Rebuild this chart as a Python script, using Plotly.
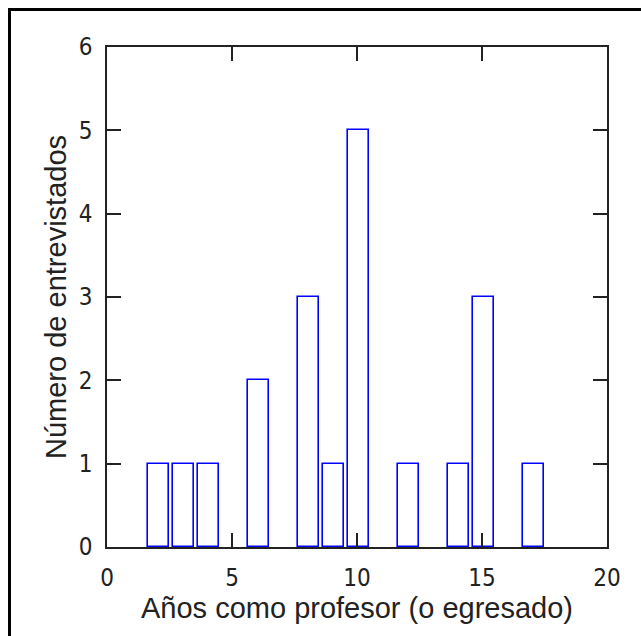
import plotly.graph_objects as go

# Years as teacher (or graduate) and number of interviewees in each
anos = [2, 3, 4, 6, 8, 9, 10, 12, 14, 15, 17]
entrevistados = [1, 1, 1, 2, 3, 1, 5, 1, 1, 3, 1]

x_ticks = [0, 5, 10, 15, 20]
y_ticks = [0, 1, 2, 3, 4, 5, 6]

tick_font = dict(family="Liberation Sans Narrow, DejaVu Sans Condensed, Arial Narrow, sans-serif",
                 size=24, color="#222222")
title_font = dict(family="Liberation Sans, Arial, sans-serif", size=29, color="#222222")

fig = go.Figure(
    go.Bar(
        x=anos,
        y=entrevistados,
        width=0.84,
        offset=-0.35,
        marker=dict(color="white", line=dict(color="#0000ff", width=1.6)),
    )
)

axis_common = dict(
    showline=True,
    linecolor="#222222",
    linewidth=1.5,
    mirror="ticks",
    ticks="inside",
    ticklen=14,
    tickwidth=1.5,
    tickcolor="#222222",
    showgrid=False,
    zeroline=False,
    tickfont=tick_font,
)

fig.update_xaxes(
    range=[0, 20],
    tickvals=x_ticks,
    title=dict(text="Años como profesor (o egresado)", font=title_font, standoff=2),
    ticklabelstandoff=8,
    **axis_common,
)
fig.update_yaxes(
    range=[0, 6],
    tickvals=y_ticks,
    title=dict(text="Número de entrevistados", font=title_font, standoff=4),
    ticklabelstandoff=8,
    **axis_common,
)

# Outer figure frame
fig.add_shape(
    type="rect", xref="paper", yref="paper",
    x0=-0.195, x1=1.1, y0=-0.2, y1=1.075,
    line=dict(color="black", width=3), fillcolor="rgba(0,0,0,0)",
    layer="above",
)

fig.update_layout(
    width=641,
    height=636,
    margin=dict(l=107, r=34, t=47, b=89),
    paper_bgcolor="white",
    plot_bgcolor="white",
    showlegend=False,
    bargap=0,
)

fig.write_html("out.html")
